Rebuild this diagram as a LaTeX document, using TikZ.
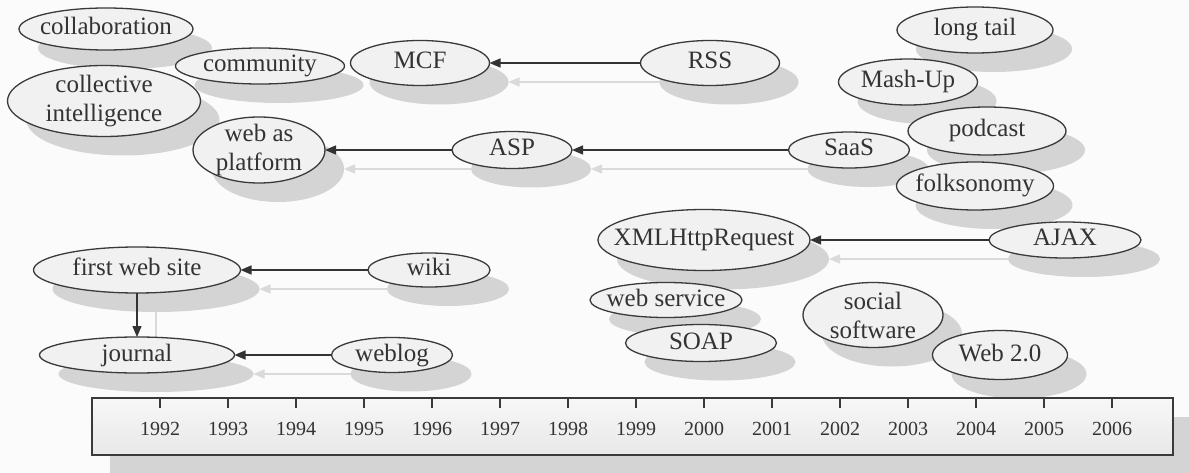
\documentclass[tikz,border=0pt]{standalone}
\usepackage{fontspec}
\setmainfont{Liberation Serif}
\usetikzlibrary{shapes.geometric,arrows.meta}
\definecolor{bgc}{HTML}{FBFBFB}
\definecolor{nodefill}{HTML}{F1F1F1}
\definecolor{shadowc}{HTML}{D4D4D4}
\definecolor{ashadow}{HTML}{DADADA}
\definecolor{inkc}{HTML}{333333}
\definecolor{linec}{HTML}{3A3A3A}
\pgfdeclarelayer{bglayer}
\pgfdeclarelayer{shadowlayer}
\pgfsetlayers{bglayer,shadowlayer,main}
\tikzset{
  ell/.style={ellipse, draw=linec, line width=1.3pt, fill=nodefill, text=inkc,
    inner sep=-100pt, outer sep=0pt, font=\fontsize{25}{29}\selectfont},
  one/.style={text height=17pt, text depth=5pt},
  two/.style={align=center},
  arr/.style={draw=inkc, line width=1.5pt, -{Triangle[length=11pt,width=9pt]}},
  arrsh/.style={draw=ashadow, line width=1.5pt, -{Triangle[length=11pt,width=9pt]},
    transform canvas={shift={(19,19)}}},
  yearlbl/.style={text=inkc, font=\fontsize{20}{24}\selectfont, anchor=base, inner sep=0pt},
  tickline/.style={draw=linec, line width=1.2pt},
  tlbox/.style={draw=linec, line width=1.3pt, top color=white!97!black,
    bottom color=white!91!black, inner sep=0pt, outer sep=0pt, anchor=north west}
}
\newcommand\ellnode[7][one]{%
  \begin{pgfonlayer}{shadowlayer}
    \fill[shadowc] (#3+19,#4+19) ellipse [x radius={#5/2*1pt}, y radius={#6/2*1pt}];
  \end{pgfonlayer}
  \node[ell,#1,minimum width=#5pt,minimum height=#6pt] (#2) at (#3,#4) {#7};
}
\begin{document}
\begin{tikzpicture}[x=1pt,y=-1pt]
\useasboundingbox (0,0) rectangle (1189,473);
\begin{pgfonlayer}{bglayer}
  \fill[bgc] (0,0) rectangle (1189,473);
\end{pgfonlayer}

% timeline
\begin{pgfonlayer}{shadowlayer}
  \fill[shadowc] (110,417) rectangle (1192,476);
\end{pgfonlayer}
\node[tlbox, minimum width=1081pt, minimum height=57pt] (timeline) at (92,398) {};
\foreach \i in {0,...,14}{
  \pgfmathtruncatemacro\yr{1992+\i}
  \draw[tickline] (160+68*\i,398) -- (160+68*\i,408);
  \node[yearlbl] (y\yr) at (160+68*\i,435) {\yr};
}

% nodes
\ellnode{collab}{106}{29}{174}{42}{collaboration}
\ellnode{community}{260}{66}{169}{36}{community}
\ellnode[two]{collective}{104}{101}{193}{71}{collective\\intelligence}
\ellnode[two]{wap}{259}{150}{132}{66}{web as\\platform}
\ellnode{mcf}{420}{63}{139}{45}{MCF}
\ellnode{rss}{710}{63}{139}{45}{RSS}
\ellnode{asp}{512}{150}{120}{37}{ASP}
\ellnode{saas}{849}{150}{121}{36}{SaaS}
\ellnode{longtail}{975}{30}{156}{46}{long tail}
\ellnode{mashup}{908}{82}{139}{46}{Mash-Up}
\ellnode{podcast}{987}{131}{158}{48}{podcast}
\ellnode{folk}{975}{186}{157}{48}{folksonomy}
\ellnode{xml}{704}{240}{212}{61}{XMLHttpRequest}
\ellnode{ajax}{1065}{240}{152}{36}{AJAX}
\ellnode{websvc}{666}{300}{152}{35}{web service}
\ellnode{soap}{701}{343}{151}{37}{SOAP}
\ellnode[two]{social}{873}{315}{140}{65}{social\\software}
\ellnode{webtwo}{1000}{355}{135}{49}{Web 2.0}
\ellnode{fws}{137}{270}{207}{46}{first web site}
\ellnode{wiki}{429}{270}{122}{34}{wiki}
\ellnode{journal}{137}{355}{195}{36}{journal}
\ellnode{weblog}{392}{355}{121}{35}{weblog}

% arrow shadows
\begin{pgfonlayer}{shadowlayer}
  \draw[arrsh] (rss) -- (mcf);
  \draw[arrsh] (saas) -- (asp);
  \draw[arrsh] (asp) -- (wap);
  \draw[arrsh] (ajax) -- (xml);
  \draw[arrsh] (wiki) -- (fws);
  \draw[arrsh] (weblog) -- (journal);
  \draw[arrsh] (fws) -- (journal);
\end{pgfonlayer}

% arrows
\draw[arr] (rss) -- (mcf);
\draw[arr] (saas) -- (asp);
\draw[arr] (asp) -- (wap);
\draw[arr] (ajax) -- (xml);
\draw[arr] (wiki) -- (fws);
\draw[arr] (weblog) -- (journal);
\draw[arr] (fws) -- (journal);
\end{tikzpicture}
\end{document}
